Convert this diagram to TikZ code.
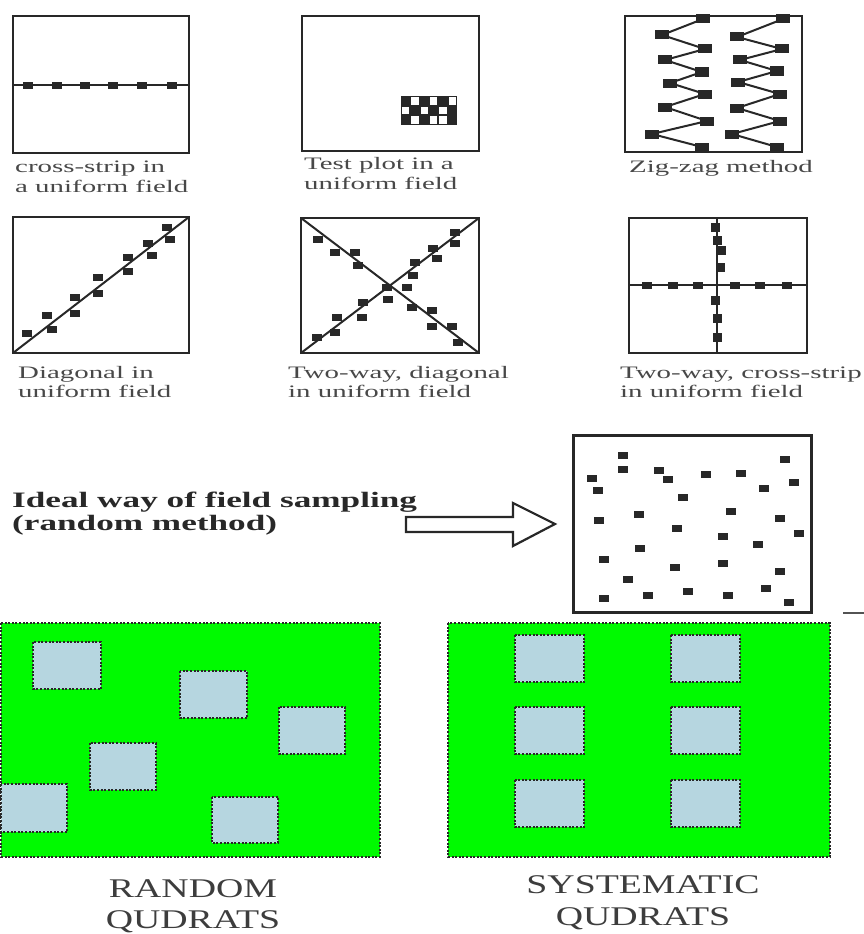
\documentclass[tikz,border=0pt]{standalone}
\usepackage{fontspec}
\setmainfont{Liberation Serif}
\newfontfamily\capfont[FakeStretch=1.65]{Liberation Serif}
\newfontfamily\idealfont[FakeStretch=1.6]{Liberation Serif}
\newfontfamily\bigfont[FakeStretch=1.4]{Liberation Serif}
\definecolor{fieldgreen}{RGB}{0,250,0}
\definecolor{quadblue}{RGB}{182,214,224}
\definecolor{ink}{RGB}{40,40,40}
\newcommand\mymark[2]{\fill[ink] ({#1-5},{#2-3.5}) rectangle ++(10,7);}
\newcommand\bigmark[2]{\fill[ink] ({#1-7},{#2-4.5}) rectangle ++(14,9);}
\begin{document}
\begin{tikzpicture}[x=1pt,y=-1pt,
  panelframe/.style={draw=ink,line width=2.6pt},
  stripline/.style={draw=ink,line width=2pt},
  captxt/.style={anchor=base west,inner sep=0pt,font=\capfont\fontsize{17.5}{20}\selectfont,text=ink!85},
  idealtxt/.style={anchor=base west,inner sep=0pt,font=\idealfont\bfseries\fontsize{22}{23}\selectfont,text=ink},
  bigtxt/.style={anchor=base,inner sep=0pt,font=\bigfont\fontsize{27}{30}\selectfont,text=ink!90},
  greenfield/.style={fill=fieldgreen,draw=ink,line width=2.4pt,dash pattern=on 2pt off 1.6pt},
  quadrat/.style={fill=quadblue,draw=ink,line width=2.4pt,dash pattern=on 2pt off 1.6pt}]
\useasboundingbox[fill=white] (0,0) rectangle (864,934);

% ---------- Panel 1: cross-strip ----------
\draw[panelframe] (13,16) rectangle (189,153);
\draw[stripline] (13,85) -- (189,85);
\foreach \x in {28,57,85,113,142,172} {\mymark{\x}{85}}
\node[captxt] (c1a) at (15,172) {cross-strip in};
\node[captxt] (c1b) at (15,192) {a uniform field};

% ---------- Panel 2: test plot ----------
\draw[panelframe] (302,16) rectangle (479,151);
\fill[ink] (401,96) rectangle (457,125);
\foreach \c/\r in {1/0,3/0,5/0,0/1,2/1,4/1,1/2,3/2,4/2} {
  \fill[white] ({401+1+\c*9.33},{96+1+\r*9.67}) rectangle ++(7.3,7.6);
}
\node[captxt] (c2a) at (304,169) {Test plot in a};
\node[captxt] (c2b) at (304,189) {uniform field};

% ---------- Panel 3: zig-zag ----------
\draw[panelframe] (625,16) rectangle (802,152);
\draw[stripline] (703,19) -- (662,35) -- (705,49) -- (665,60) -- (702,72) -- (670,83)
  -- (705,94) -- (665,107) -- (707,121) -- (652,134) -- (702,147);
\draw[stripline] (783,19) -- (737,37) -- (782,49) -- (740,60) -- (777,71) -- (738,82)
  -- (780,94) -- (737,108) -- (780,121) -- (732,134) -- (777,147);
\foreach \x/\y in {703/19,662/35,705/49,665/60,702/72,670/83,705/94,665/107,707/121,652/134,702/147,
  783/19,737/37,782/49,740/60,777/71,738/82,780/94,737/108,780/121,732/134,777/147} {\bigmark{\x}{\y}}
\node[captxt] (c3a) at (629,172) {Zig-zag method};

% ---------- Panel 4: diagonal ----------
\draw[panelframe] (13,217) rectangle (189,353);
\draw[stripline] (13,353) -- (189,217);
\foreach \x/\y in {27/333,47/315,52/329,75/297,75/313,98/277,98/293,128/257,128/271,148/243,152/255,167/227,170/239} {\mymark{\x}{\y}}
\node[captxt] (c4a) at (18,378) {Diagonal in};
\node[captxt] (c4b) at (18,397) {uniform field};

% ---------- Panel 5: two-way diagonal ----------
\draw[panelframe] (301,218) rectangle (479,353);
\draw[stripline] (301,218) -- (479,353);
\draw[stripline] (301,353) -- (479,218);
\foreach \x/\y in {318/239,335/252,355/252,358/265,387/287,407/287,388/299,412/307,432/310,432/326,452/326,458/342,
  455/232,455/243,433/248,437/258,415/262,413/275,363/302,362/317,337/317,335/332,317/337} {\mymark{\x}{\y}}
\node[captxt] (c5a) at (288,378) {Two-way, diagonal};
\node[captxt] (c5b) at (288,397) {in uniform field};

% ---------- Panel 6: two-way cross-strip ----------
\draw[panelframe] (629,218) rectangle (807,353);
\draw[stripline] (717,218) -- (717,353);
\draw[stripline] (629,285) -- (807,285);
\foreach \x in {647,673,698,735,760,787} {\mymark{\x}{285}}
\foreach \x/\y in {715/227,717/240,721/250,720/267,715/300,717/318,717/337} {\fill[ink] ({\x-4.5},{\y-4.5}) rectangle ++(9,9);}
\node[captxt] (c6a) at (620,378) {Two-way, cross-strip};
\node[captxt] (c6b) at (620,397) {in uniform field};

% ---------- Ideal random sampling ----------
\node[idealtxt] (i1) at (12,507) {Ideal way of field sampling};
\node[idealtxt] (i2) at (12,530) {(random method)};
\draw[fill=white,draw=ink,line width=2.2pt,line join=miter]
  (406,517) -- (513,517) -- (513,503) -- (555,524) -- (513,546) -- (513,532) -- (406,532) -- cycle;
\draw[draw=ink,line width=3pt] (573,435) rectangle (811,612);
\foreach \x/\y in {623/455,623/469,659/470,668/479,592/478,598/490,706/474,741/473,785/459,794/482,
  764/488,683/497,731/511,639/514,599/520,780/518,677/528,723/536,799/533,758/544,640/548,604/559,
  675/567,723/563,780/571,628/579,604/598,648/595,688/591,728/595,766/588,789/602} {\mymark{\x}{\y}}
\draw[ink!80,line width=1.2pt] (843,613) -- (864,613);

% ---------- Random quadrats ----------
\draw[greenfield] (1,623) rectangle (380,857);
\draw[quadrat] (33,642) rectangle (101,689);
\draw[quadrat] (180,671) rectangle (247,718);
\draw[quadrat] (279,707) rectangle (345,754);
\draw[quadrat] (90,743) rectangle (156,790);
\draw[quadrat] (1,784) rectangle (67,832);
\draw[quadrat] (212,797) rectangle (278,843);
\node[bigtxt] (r1) at (193,897) {RANDOM};
\node[bigtxt] (r2) at (193,928) {QUDRATS};

% ---------- Systematic quadrats ----------
\draw[greenfield] (448,623) rectangle (830,857);
\foreach \x in {515,671} {
  \foreach \y in {635,707,780} {
    \draw[quadrat] (\x,\y) rectangle ++(69,47);
  }
}
\node[bigtxt] (s1) at (643,893) {SYSTEMATIC};
\node[bigtxt] (s2) at (643,925) {QUDRATS};
\end{tikzpicture}
\end{document}
